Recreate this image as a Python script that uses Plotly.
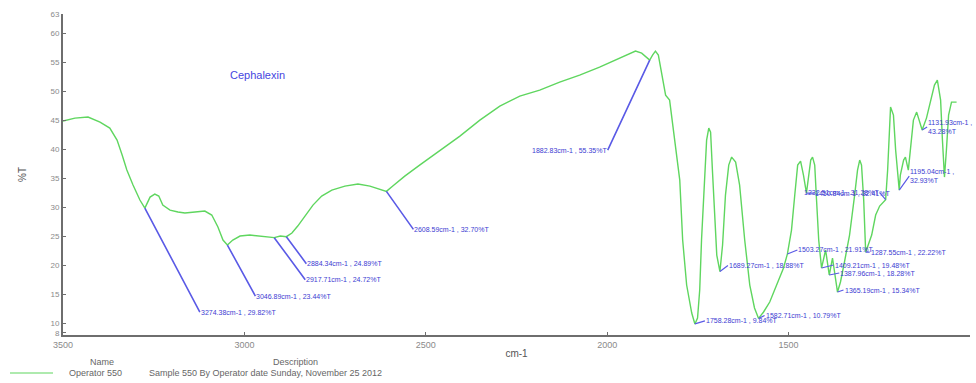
import plotly.graph_objects as go

# IR spectrum of cephalexin: wavenumber (cm-1) vs transmittance (%T)
wavenumber = [
    3500, 3467, 3431, 3398, 3371, 3351, 3337, 3324, 3307, 3288, 3274.38, 3260, 3247, 3236,
    3225, 3205, 3183, 3164, 3136, 3109, 3090, 3073, 3059, 3046.89, 3032, 3012, 2985, 2952,
    2935, 2917.71, 2901, 2884.34, 2869, 2853, 2833, 2811, 2787, 2759, 2723, 2687, 2654, 2627,
    2608.59, 2591, 2558, 2517, 2461, 2406, 2351, 2296, 2241, 2186, 2131, 2076, 2021, 1979,
    1944, 1922, 1905, 1894, 1882.83, 1875, 1867, 1859, 1850, 1839, 1828, 1814, 1800, 1792,
    1781, 1767, 1758.28, 1751, 1745, 1740, 1731, 1726, 1720, 1715, 1710, 1704, 1698, 1689.27,
    1682, 1674, 1665, 1657, 1646, 1635, 1621, 1607, 1594, 1582.71, 1569, 1552, 1533, 1514,
    1503.27, 1492, 1483, 1475, 1467, 1459, 1450.84, 1445, 1439, 1434, 1428, 1423, 1417,
    1409.21, 1398, 1387.96, 1379, 1365.19, 1357, 1346, 1332, 1318, 1310, 1304, 1299, 1293,
    1287.55, 1271, 1260, 1249, 1232.51, 1227, 1219, 1211, 1205, 1195.04, 1192, 1183, 1178,
    1170, 1164, 1156, 1147, 1139, 1131.93, 1120, 1109, 1098, 1090, 1081, 1076, 1070.4, 1065,
    1059, 1051, 1037,
]
transmittance = [
    44.83, 45.34, 45.52, 44.66, 43.62, 41.55, 38.97, 36.38, 33.79, 31.21, 29.82, 31.72, 32.24, 31.90,
    30.34, 29.48, 29.14, 28.97, 29.14, 29.31, 28.62, 26.55, 24.31, 23.44, 24.31, 25.00, 25.17, 25.00,
    24.83, 24.72, 25.00, 24.89, 25.52, 26.72, 28.45, 30.34, 31.90, 32.93, 33.62, 33.97, 33.62, 33.10,
    32.70, 33.62, 35.34, 37.24, 39.83, 42.24, 45.00, 47.41, 49.14, 50.17, 51.55, 52.76, 54.14, 55.34,
    56.38, 56.90, 56.55, 55.90, 55.35, 56.20, 56.90, 56.21, 52.76, 49.31, 48.45, 41.55, 34.66, 24.31,
    16.55, 11.72, 9.84, 10.86, 15.69, 24.31, 36.38, 41.55, 43.62, 42.93, 36.38, 27.76, 21.72, 18.88,
    23.45, 32.07, 37.24, 38.62, 37.76, 33.79, 24.31, 16.55, 12.59, 10.79, 11.90, 13.62, 16.55, 19.48,
    21.91, 26.03, 32.07, 37.24, 37.93, 35.52, 32.41, 35.52, 38.10, 38.62, 37.24, 31.21, 24.31,
    19.48, 22.59, 18.28, 21.21, 15.34, 17.07, 20.52, 25.17, 32.07, 36.38, 38.10, 37.24, 31.21,
    22.22, 25.17, 28.62, 30.17, 31.28, 36.38, 47.24, 45.86, 39.83, 32.93, 35.52, 38.10, 38.62,
    36.38, 39.83, 45.00, 46.38, 44.66, 43.28, 45.34, 48.45, 51.03, 51.90, 48.45, 41.55, 35.17, 39.83,
    45.86, 48.10, 48.10,
]

# Labelled peak positions
peak_wn = [3274.38, 3046.89, 2917.71, 2884.34, 2608.59, 1882.83, 1758.28, 1689.27, 1582.71,
           1503.27, 1450.84, 1409.21, 1387.96, 1365.19, 1287.55, 1232.51, 1195.04, 1131.93]
peak_t = [29.82, 23.44, 24.72, 24.89, 32.70, 55.35, 9.84, 18.88, 10.79,
          21.91, 32.41, 19.48, 18.28, 15.34, 22.22, 31.28, 32.93, 43.28]

# Leader offsets (pixels) for each peak label
label_offsets = [(55, 104), (28, 51), (31, 42), (20, 27), (27, 38), (-42, 90), (10, -3), (8, -6),
                 (6, -3), (10, -4), (8, 0), (12, -3), (10, -2), (6, -2), (4, 0), (-6, -7),
                 (10, -14), (5, -3)]
# Labels near the right edge are split over two lines so they stay inside the page
wrapped_labels = {1195.04, 1131.93}

x_ticks = [3500, 3000, 2500, 2000, 1500, 1000]
y_ticks = [8.3, 10, 15, 20, 25, 30, 35, 40, 45, 50, 55, 60, 63.3]
y_ticktext = ["8", "10", "15", "20", "25", "30", "35", "40", "45", "50", "55", "60", "63"]

GREEN = "#5fd65f"
BLUE_LINE = "#5a5ae6"
BLUE_TEXT = "#3c3cd2"
GREY = "#8a8a8a"
FONT = "Liberation Sans, Arial, sans-serif"

fig = go.Figure()
fig.add_trace(go.Scatter(
    x=wavenumber, y=transmittance, mode="lines",
    line=dict(color=GREEN, width=1.4), showlegend=False, hoverinfo="skip",
))

annotations = []
for wn, t, (ax, ay) in zip(peak_wn, peak_t, label_offsets):
    sep = " ,<br>" if wn in wrapped_labels else " , "
    annotations.append(dict(
        x=wn, y=t, xref="x", yref="y",
        text=f"{wn:.2f}cm-1{sep}{t:.2f}%T",
        showarrow=True, arrowhead=0, arrowwidth=1.6 if abs(ay) > 20 else 1.2,
        arrowcolor=BLUE_LINE, ax=ax, ay=ay,
        xanchor="right" if ax < 0 else "left", yanchor="middle", align="left",
        font=dict(family=FONT, size=7, color=BLUE_TEXT),
        borderpad=0,
    ))

# Sample title
annotations.append(dict(
    x=2963, y=52.76, xref="x", yref="y", text="Cephalexin", showarrow=False,
    font=dict(family=FONT, size=11, color="#4646e0"),
))

# Footer legend block (positions given in page pixels, mapped to paper space)
def px_x(p):
    return (p - 63) / 907


def px_y(p):
    return (335 - p) / 321


footer_font = dict(family=FONT, size=9, color="#666666")
annotations += [
    dict(x=px_x(102), y=px_y(362), xref="paper", yref="paper", text="Name",
         showarrow=False, xanchor="center", yanchor="middle", font=footer_font),
    dict(x=px_x(295), y=px_y(362), xref="paper", yref="paper", text="Description",
         showarrow=False, xanchor="center", yanchor="middle", font=footer_font),
    dict(x=px_x(67), y=px_y(373), xref="paper", yref="paper", text="Operator 550",
         showarrow=False, xanchor="left", yanchor="middle", font=footer_font),
    dict(x=px_x(147), y=px_y(373), xref="paper", yref="paper",
         text="Sample 550 By Operator date Sunday, November 25 2012",
         showarrow=False, xanchor="left", yanchor="middle", font=footer_font),
]

shapes = [dict(type="line", xref="paper", yref="paper",
               x0=px_x(10), x1=px_x(53), y0=px_y(373), y1=px_y(373),
               line=dict(color=GREEN, width=1.2))]

fig.update_layout(
    width=976, height=383,
    margin=dict(l=63, r=6, t=14, b=48),
    paper_bgcolor="white", plot_bgcolor="white",
    annotations=annotations, shapes=shapes,
    xaxis=dict(
        range=[3500, 1000], tickvals=x_ticks, showgrid=False, zeroline=False,
        showline=True, linecolor="#6e6e6e", linewidth=2,
        ticks="inside", ticklen=3, tickcolor="#6e6e6e",
        tickfont=dict(family=FONT, size=9, color=GREY),
        title=dict(text="cm-1", standoff=1,
                   font=dict(family=FONT, size=10, color="#555555")),
    ),
    yaxis=dict(
        range=[7.93, 63.3], tickvals=y_ticks, ticktext=y_ticktext,
        showgrid=False, zeroline=False,
        showline=True, linecolor="#6e6e6e", linewidth=2,
        ticks="inside", ticklen=3, tickcolor="#6e6e6e",
        tickfont=dict(family=FONT, size=8, color=GREY),
        title=dict(text="%T", standoff=22,
                   font=dict(family=FONT, size=10, color="#555555")),
    ),
)

fig.write_html("out.html")
